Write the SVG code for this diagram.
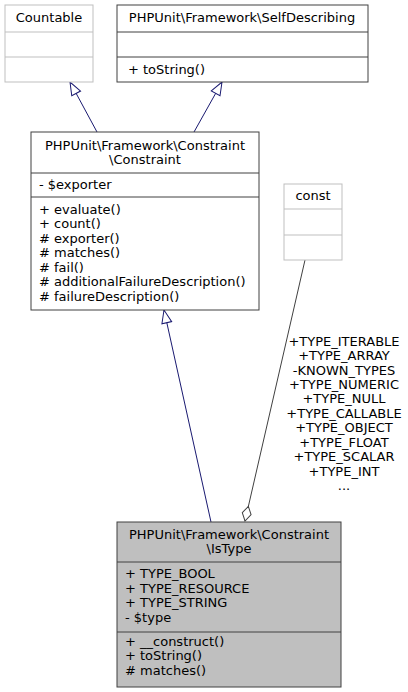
<svg xmlns="http://www.w3.org/2000/svg" width="408" height="692" viewBox="0 0 408 692">
<style>
text{font-family:"DejaVu Sans",sans-serif;font-size:13px;fill:#000}
.c{text-anchor:middle}
.box{fill:#fff;stroke:#404040;stroke-width:1}
.lbox{fill:#fff;stroke:#bfbfbf;stroke-width:1}
.cur{fill:#bfbfbf;stroke:#404040;stroke-width:1}
.inh{fill:none;stroke:#191970;stroke-width:1}
.agg{fill:none;stroke:#404040;stroke-width:1}
</style>
<defs>
<marker id="tri" markerWidth="16" markerHeight="12" refX="14" refY="6" orient="auto" markerUnits="userSpaceOnUse">
<path d="M1,1 L14,6 L1,11 Z" fill="#fff" stroke="#191970" stroke-width="1"/>
</marker>
<marker id="dia" markerWidth="18" markerHeight="12" refX="16" refY="6" orient="auto" markerUnits="userSpaceOnUse">
<path d="M1,6 L8.5,1.5 L16,6 L8.5,10.5 Z" fill="#fff" stroke="#404040" stroke-width="1"/>
</marker>
</defs>
<g id="connectors">
<path class="inh" d="M97,132 L70,82" marker-end="url(#tri)"/>
<path class="inh" d="M194,132 L222,82" marker-end="url(#tri)"/>
<path class="inh" d="M211,522 L164,310" marker-end="url(#tri)"/>
<path class="agg" d="M305,260 L245,521" marker-end="url(#dia)"/>
<text class="c" x="344" y="346">+TYPE_ITERABLE</text>
<text class="c" x="344" y="360">+TYPE_ARRAY</text>
<text class="c" x="344" y="375">-KNOWN_TYPES</text>
<text class="c" x="344" y="389">+TYPE_NUMERIC</text>
<text class="c" x="344" y="403">+TYPE_NULL</text>
<text class="c" x="344" y="418">+TYPE_CALLABLE</text>
<text class="c" x="344" y="432">+TYPE_OBJECT</text>
<text class="c" x="344" y="447">+TYPE_FLOAT</text>
<text class="c" x="344" y="461">+TYPE_SCALAR</text>
<text class="c" x="344" y="476">+TYPE_INT</text>
<text class="c" x="344" y="490">...</text>
</g>
<g id="Countable">
<rect class="lbox" x="5" y="5" width="88" height="77"/>
<line class="lbox" x1="5" y1="32" x2="93" y2="32"/>
<line class="lbox" x1="5" y1="57" x2="93" y2="57"/>
<text class="c" x="49" y="22">Countable</text>
</g>
<g id="SelfDescribing">
<rect class="box" x="117" y="5" width="251" height="77"/>
<line class="box" x1="117" y1="32" x2="368" y2="32"/>
<line class="box" x1="117" y1="57" x2="368" y2="57"/>
<text class="c" x="242" y="22">PHPUnit\Framework\SelfDescribing</text>
<text x="128" y="74">+ toString()</text>
</g>
<g id="Constraint">
<rect class="box" x="31" y="132" width="228" height="178"/>
<line class="box" x1="31" y1="173" x2="259" y2="173"/>
<line class="box" x1="31" y1="197" x2="259" y2="197"/>
<text class="c" x="145" y="150">PHPUnit\Framework\Constraint</text>
<text class="c" x="145" y="164">\Constraint</text>
<text x="39" y="189">- $exporter</text>
<text x="39" y="214">+ evaluate()</text>
<text x="39" y="228">+ count()</text>
<text x="39" y="243"># exporter()</text>
<text x="39" y="257"># matches()</text>
<text x="39" y="272"># fail()</text>
<text x="39" y="286"># additionalFailureDescription()</text>
<text x="39" y="301"># failureDescription()</text>
</g>
<g id="const">
<rect class="lbox" x="284" y="184" width="58" height="76"/>
<line class="lbox" x1="284" y1="209" x2="342" y2="209"/>
<line class="lbox" x1="284" y1="235" x2="342" y2="235"/>
<text class="c" x="313" y="200">const</text>
</g>
<g id="IsType">
<rect class="cur" x="117" y="522" width="224" height="165"/>
<line class="cur" x1="117" y1="562" x2="341" y2="562"/>
<line class="cur" x1="117" y1="632" x2="341" y2="632"/>
<text class="c" x="229" y="539">PHPUnit\Framework\Constraint</text>
<text class="c" x="229" y="553">\IsType</text>
<text x="125" y="578">+ TYPE_BOOL</text>
<text x="125" y="593">+ TYPE_RESOURCE</text>
<text x="125" y="607">+ TYPE_STRING</text>
<text x="125" y="622">- $type</text>
<text x="125" y="646">+ __construct()</text>
<text x="125" y="660">+ toString()</text>
<text x="125" y="675"># matches()</text>
</g>
</svg>
